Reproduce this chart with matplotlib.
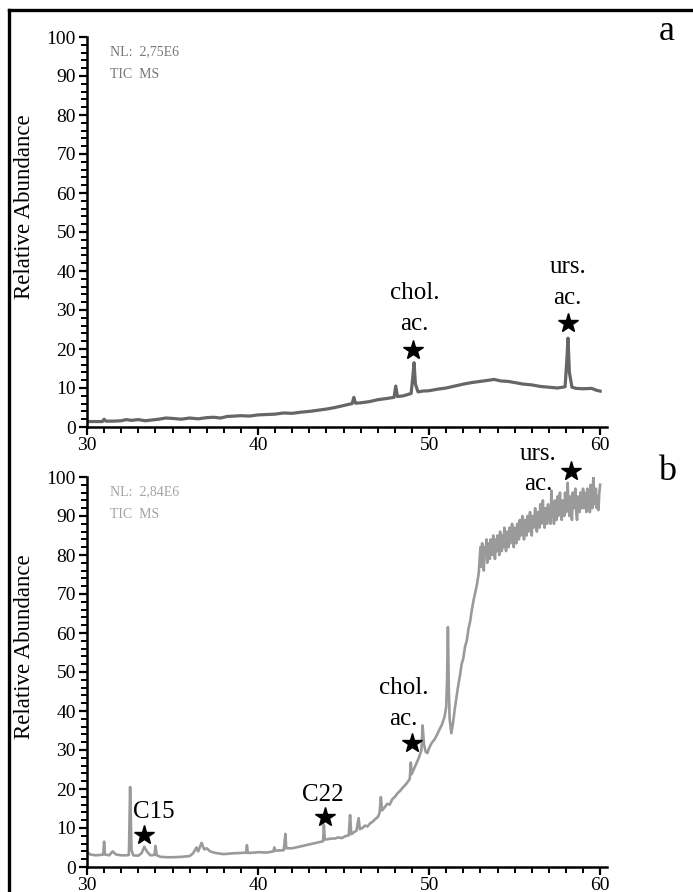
import matplotlib
matplotlib.use("Agg")
import matplotlib.pyplot as plt
from matplotlib.ticker import MultipleLocator
from matplotlib.lines import Line2D

plt.rcParams['font.family'] = ['Liberation Serif', 'DejaVu Serif']

# ---------------- data: panel a ----------------
time_a = [30.0, 30.5, 30.9, 31.0, 31.1, 31.5, 32.0, 32.3, 32.6, 33.0, 33.4, 33.8, 34.2,
          34.6, 35.0, 35.5, 36.0, 36.5, 37.0, 37.4, 37.8, 38.2, 38.6, 39.0, 39.5, 40.0,
          40.5, 41.0, 41.5, 42.0, 42.5, 43.0, 43.5, 44.0, 44.5, 45.0, 45.5, 45.6, 45.7,
          46.0, 46.5, 47.0, 47.5, 47.95, 48.05, 48.15, 48.5, 48.95, 49.05, 49.12, 49.2,
          49.35, 49.6, 50.0, 50.5, 51.0, 51.5, 52.0, 52.5, 53.0, 53.5, 53.8, 54.2, 54.6,
          55.0, 55.5, 56.0, 56.5, 57.0, 57.5, 57.95, 58.05, 58.12, 58.2, 58.35, 58.6,
          59.0, 59.5, 59.8, 60.0]
abund_a = [1.4, 1.4, 1.4, 2.0, 1.5, 1.5, 1.6, 1.9, 1.7, 1.9, 1.6, 1.8, 2.0,
           2.3, 2.2, 2.0, 2.3, 2.1, 2.4, 2.5, 2.3, 2.7, 2.8, 2.9, 2.8, 3.1,
           3.2, 3.3, 3.6, 3.5, 3.8, 4.0, 4.3, 4.6, 5.0, 5.5, 6.0, 7.6, 6.1,
           6.2, 6.5, 7.0, 7.3, 7.6, 10.5, 7.8, 8.0, 8.6, 13.0, 16.5, 11.0,
           9.0, 9.2, 9.3, 9.7, 10.0, 10.5, 11.0, 11.4, 11.7, 12.0, 12.2, 11.8, 11.7,
           11.4, 11.0, 10.8, 10.4, 10.2, 10.0, 10.3, 17.0, 22.8, 14.0, 10.2, 9.9,
           9.8, 9.9, 9.4, 9.2]

# ---------------- data: panel b ----------------
time_b = [30.0, 30.2, 30.5, 30.8, 30.95, 31.0, 31.05, 31.3, 31.5, 31.7, 32.0, 32.3, 32.45,
          32.52, 32.6, 32.7, 33.0, 33.2, 33.35, 33.5, 33.7, 33.95, 34.0, 34.08, 34.3, 34.7,
          35.0, 35.5, 36.0, 36.2, 36.4, 36.5, 36.7, 36.85, 37.0, 37.2, 37.5, 38.0, 38.5,
          39.0, 39.3, 39.35, 39.4, 39.8, 40.0, 40.5, 40.9, 40.95, 41.0, 41.5, 41.6, 41.65,
          42.0, 42.5, 43.0, 43.5, 43.8, 43.85, 43.9, 44.3,
          44.5, 44.7, 44.9, 45.1, 45.3, 45.38, 45.45, 45.6, 45.75, 45.88, 45.95, 46.1,
          46.25, 46.4, 46.55, 46.7, 46.85, 47.0, 47.1, 47.18, 47.25, 47.4, 47.55, 47.7,
          47.85, 48.0, 48.15, 48.3, 48.45, 48.6, 48.75, 48.87, 48.93, 48.98, 49.1, 49.25,
          49.4, 49.55, 49.62, 49.7, 49.8, 49.9, 50.0, 50.15, 50.3, 50.45, 50.6, 50.75,
          50.9, 51.0, 51.05, 51.1, 51.15, 51.2, 51.3, 51.4, 51.5, 51.6, 51.7, 51.8,
          51.9, 52.0, 52.1, 52.2, 52.3, 52.4, 52.5, 52.6, 52.7, 52.8, 52.9, 53.0,
          53.05, 53.10, 53.15, 53.20, 53.25, 53.30, 53.35, 53.40, 53.45, 53.50,
          53.55, 53.60, 53.65, 53.70, 53.75, 53.80, 53.85, 53.90, 53.95, 54.00,
          54.05, 54.10, 54.15, 54.20, 54.25, 54.30, 54.35, 54.40, 54.45, 54.50,
          54.55, 54.60, 54.65, 54.70, 54.75, 54.80, 54.85, 54.90, 54.95, 55.00,
          55.05, 55.10, 55.15, 55.20, 55.25, 55.30, 55.35, 55.40, 55.45, 55.50,
          55.55, 55.60, 55.65, 55.70, 55.75, 55.80, 55.85, 55.90, 55.95, 56.00,
          56.05, 56.10, 56.15, 56.20, 56.25, 56.30, 56.35, 56.40, 56.45, 56.50,
          56.55, 56.60, 56.65, 56.70, 56.75, 56.80, 56.85, 56.90, 56.95, 57.00,
          57.05, 57.10, 57.15, 57.20, 57.25, 57.30, 57.35, 57.40, 57.45, 57.50,
          57.55, 57.60, 57.65, 57.70, 57.75, 57.80, 57.85, 57.90, 57.95, 58.00,
          58.05, 58.10, 58.15, 58.20, 58.25, 58.30, 58.35, 58.40, 58.45, 58.50,
          58.55, 58.60, 58.65, 58.70, 58.75, 58.80, 58.85, 58.90, 58.95, 59.00,
          59.05, 59.10, 59.15, 59.20, 59.25, 59.30, 59.35, 59.40, 59.45, 59.50,
          59.55, 59.60, 59.65, 59.70, 59.75, 59.80, 59.85, 59.90, 59.95, 60.00]
abund_b = [3.8, 3.2, 3.0, 3.1, 3.2, 6.5, 3.2, 3.0, 4.0, 3.2, 3.0, 3.0, 3.1,
           20.5, 4.5, 3.0, 2.9, 3.6, 5.2, 4.0, 3.0, 3.1, 5.4, 3.0, 2.6, 2.5,
           2.5, 2.6, 2.8, 3.5, 5.0, 4.0, 6.2, 4.5, 4.8, 4.0, 3.6, 3.3, 3.5,
           3.6, 3.7, 5.6, 3.6, 3.7, 3.8, 3.7, 4.0, 5.0, 4.2, 4.3, 8.5, 4.8,
           4.8, 5.3, 5.8, 6.3, 6.6, 10.8, 7.0, 7.3,
           7.3, 7.6, 7.4, 7.9, 8.1, 13.3, 8.4, 8.9, 9.3, 12.5, 9.7, 10.0,
           10.6, 10.4, 11.2, 11.6, 12.3, 12.8, 13.8, 17.9, 14.5, 15.3, 16.2, 16.0,
           17.4, 18.0, 18.9, 19.5, 20.3, 21.0, 21.8, 22.6, 26.8, 23.8, 25.0, 26.5,
           28.0, 30.0, 36.3, 31.5, 29.5, 29.2, 30.5, 31.8, 32.6, 33.8, 35.2, 36.5,
           38.5, 41.0, 48.0, 61.5, 46.0, 38.0, 34.3, 37.0, 40.5, 43.5, 46.5, 49.0,
           52.0, 53.5, 56.5, 58.0, 61.0, 63.0, 66.0, 68.4, 70.5, 72.5, 75.3, 82.0,
           77, 83, 79, 76, 82, 80, 84, 78, 81, 83,
           79, 84, 81, 80, 85, 82, 79, 84, 81, 85,
           82, 80, 86, 83, 81, 85, 82, 87, 83, 81,
           86, 84, 82, 87, 83, 85, 88, 84, 82, 87,
           85, 83, 88, 86, 84, 89, 85, 87, 90, 86,
           84, 89, 87, 85, 90, 86, 88, 91, 87, 85,
           90, 87, 89, 92, 88, 86, 91, 89, 87, 93,
           88, 90, 94, 89, 87, 92, 90, 88, 93, 89,
           91, 88, 96.5, 90, 92, 88, 94, 91, 89, 95,
           90, 92, 96, 91, 89, 94, 92, 90, 96, 91,
           93, 98.5, 92, 90, 95, 93, 89, 96, 92, 94,
           97, 91, 89, 95, 93, 91, 96, 92, 94, 97,
           92, 96, 94, 91, 97, 93, 95, 91, 98, 94,
           92, 100, 95, 93, 97, 92, 95, 91.5, 96, 98]

# ---------------- annotations ----------------
marks_a_x = [49.05, 58.1]
marks_a_y = [19.7, 26.7]

marks_b_x = [33.35, 43.9, 49.0, 58.3]
marks_b_y = [8.1, 12.8, 31.7, 101.5]

xticks = [30, 40, 50, 60]
yticks = [0, 10, 20, 30, 40, 50, 60, 70, 80, 90, 100]

W, H = 693, 892
fig = plt.figure(figsize=(W / 100, H / 100), dpi=100)
fig.patch.set_facecolor('white')


def px_ax(x0, y_top, x1, y_bot):
    return [x0 / W, 1 - y_bot / H, (x1 - x0) / W, (y_bot - y_top) / H]


ax_a = fig.add_axes(px_ax(87, 37, 607, 427))
ax_b = fig.add_axes(px_ax(87, 477, 607, 867))

for ax in (ax_a, ax_b):
    ax.set_xlim(30, 60.4)
    ax.set_ylim(0, 100)
    for s in ('top', 'right'):
        ax.spines[s].set_visible(False)
    for s in ('left', 'bottom'):
        ax.spines[s].set_linewidth(1.8)
        ax.spines[s].set_color('black')
    ax.set_xticks(xticks)
    ax.set_yticks(yticks)
    ax.xaxis.set_minor_locator(MultipleLocator(1))
    ax.yaxis.set_minor_locator(MultipleLocator(2))
    ax.tick_params(which='major', direction='out', length=6, width=1.6,
                   labelsize=14, pad=2, colors='black')
    ax.tick_params(which='minor', direction='out', length=4, width=1.4)
    ax.tick_params(axis='x', which='major', pad=1)
    ax.set_facecolor('none')

ax_a.plot(time_a, abund_a, color='#666666', lw=2.3)
ax_b.plot(time_b, abund_b, color='#9a9a9a', lw=1.9)

star_kw = dict(marker='*', color='black', ms=15, linestyle='none', clip_on=False)
ax_a.plot(marks_a_x, marks_a_y, **star_kw)
ax_b.plot(marks_b_x, marks_b_y, **star_kw)

tkw = dict(fontsize=18, ha='center', va='center', color='black')
# panel a labels
ax_a.text(49.15, 34.3, "chol.", **tkw)
ax_a.text(49.15, 26.3, "ac.", **tkw)
ax_a.text(58.1, 41.0, "urs.", **tkw)
ax_a.text(58.1, 33.2, "ac.", **tkw)
# panel b labels
ax_b.text(33.9, 14.0, "C15", **tkw)
ax_b.text(43.8, 18.5, "C22", **tkw)
ax_b.text(48.5, 46.0, "chol.", **tkw)
ax_b.text(48.5, 38.0, "ac.", **tkw)
ax_b.text(56.4, 106.0, "urs.", clip_on=False, **tkw)
ax_b.text(56.4, 98.3, "ac.", **tkw)

# NL / TIC texts
ax_a.text(31.35, 96.3, "NL:  2,75E6", fontsize=10, color='#777777', va='center', ha='left')
ax_a.text(31.35, 90.3, "TIC  MS", fontsize=10, color='#777777', va='center', ha='left')
ax_b.text(31.35, 96.3, "NL:  2,84E6", fontsize=10, color='#a3a3a3', va='center', ha='left')
ax_b.text(31.35, 90.3, "TIC  MS", fontsize=10, color='#a3a3a3', va='center', ha='left')

# y labels
fig.text(25 / W, 1 - 207 / H, "Relative Abundance", rotation=90, fontsize=16.5,
         ha='center', va='center')
fig.text(25 / W, 1 - 647 / H, "Relative Abundance", rotation=90, fontsize=16.5,
         ha='center', va='center')

# panel letters
fig.text(667 / W, 1 - 32 / H, "a", fontsize=26, ha='center', va='center')
fig.text(667 / W, 1 - 472 / H, "b", fontsize=26, ha='center', va='center')

# frame lines (top and left)
fig.add_artist(Line2D([9 / W, 1.0], [1 - 10 / H, 1 - 10 / H], color='black', lw=2.4,
                      transform=fig.transFigure))
fig.add_artist(Line2D([9 / W, 9 / W], [1 - 10 / H, 0.0], color='black', lw=2.4,
                      transform=fig.transFigure))

fig.savefig("out.png", dpi=100, facecolor='white')
